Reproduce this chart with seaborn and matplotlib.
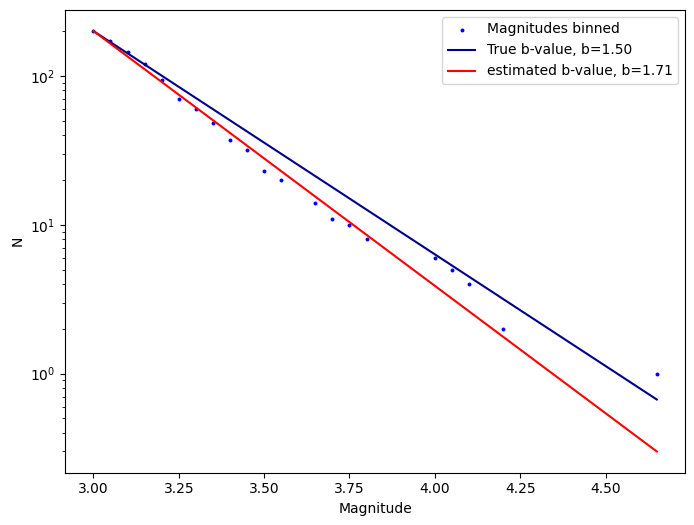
import numpy as np
import pandas as pd
import matplotlib
matplotlib.use("Agg")
import matplotlib.pyplot as plt
import seaborn as sns

# binned magnitudes and counts
mag_bins = [3.00, 3.05, 3.10, 3.15, 3.20, 3.25, 3.30, 3.35, 3.40, 3.45, 3.50, 3.55,
            3.65, 3.70, 3.75, 3.80, 4.00, 4.05, 4.10, 4.20, 4.65]
counts = [200, 171, 144, 120, 94, 70, 60, 48, 37, 32, 23, 20,
          14, 11, 10, 8, 6, 5, 4, 2, 1]

# Gutenberg-Richter lines, end points
line_mags = [3.00, 4.65]
true_N = [200, 0.67]
est_N = [200, 0.30]
b_true = 1.50
b_est = 1.71

df = pd.DataFrame({'mag': mag_bins, 'N': counts})
lines = pd.DataFrame({'mag': line_mags, 'true': true_N, 'est': est_N})

fig, ax = plt.subplots(figsize=(6.94, 5.25), dpi=100)
fig.subplots_adjust(left=0.094, right=0.987, top=0.981, bottom=0.1)

sns.scatterplot(data=df, x='mag', y='N', color='blue', s=8, linewidth=0,
                label='Magnitudes binned', ax=ax, zorder=1)
sns.lineplot(data=lines, x='mag', y='true', color='darkblue',
             label=f'True b-value, b={b_true:.2f}', ax=ax, zorder=2)
sns.lineplot(data=lines, x='mag', y='est', color='red',
             label=f'estimated b-value, b={b_est:.2f}', ax=ax, zorder=3)

ax.set_yscale('log')
ax.set_xlabel('Magnitude')
ax.set_ylabel('N')
ax.legend(loc='upper right')

fig.savefig('out.png', dpi=100)
